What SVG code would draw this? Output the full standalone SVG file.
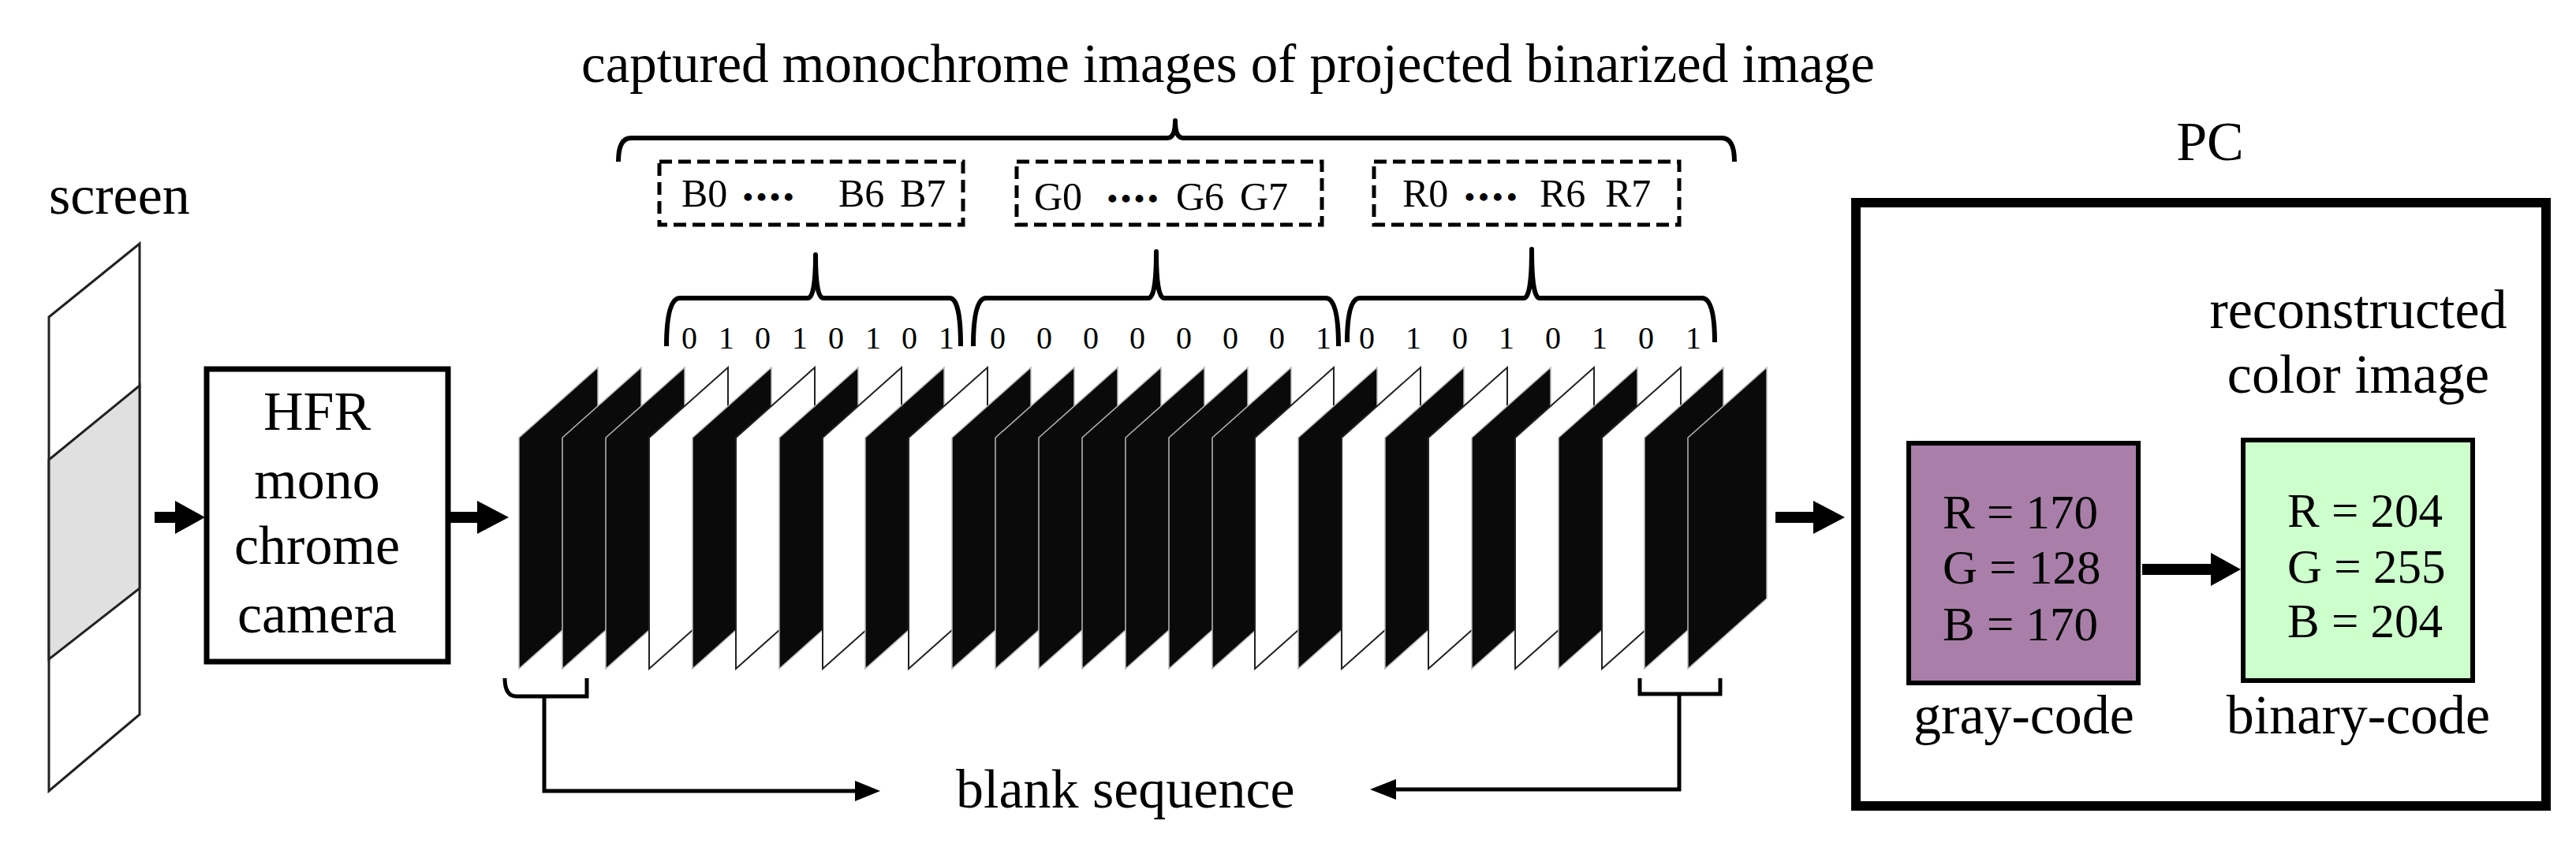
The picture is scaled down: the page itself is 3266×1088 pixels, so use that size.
<svg xmlns="http://www.w3.org/2000/svg" width="3266" height="1088" viewBox="0 0 3266 1088">
<style>
text{font-family:"Liberation Serif","Times New Roman",serif;fill:#000}
.t70{font-size:70px}
.t60{font-size:61px}
.t50{font-size:50px}
.dots{font-size:36px;font-weight:bold}
.dg{font-size:40px;text-anchor:middle}
.br{fill:none;stroke:#000;stroke-width:6;stroke-linejoin:round}
.dash{fill:#fff;stroke:#000;stroke-width:5;stroke-dasharray:16 8}
.fb{fill:#0a0a0a;stroke:#bbb;stroke-width:1.5}
.fw{fill:#fff;stroke:#222;stroke-width:2}
.ln{fill:none;stroke:#000;stroke-width:5}
.ar{fill:#000}
</style>
<rect width="3266" height="1088" fill="#fff"/>
<g id="title"><text x="1557" y="104" text-anchor="middle" font-size="69">captured monochrome images of projected binarized image</text></g>
<g id="screen">
<text class="t70" x="62" y="271">screen</text>
<polygon points="62,402 177,309 177,906 62,1003" fill="#fff" stroke="#222" stroke-width="3"/>
<polygon points="62,583 177,489 177,746 62,836" fill="#e0e0e0" stroke="#222" stroke-width="3"/>
</g>
<g id="camera">
<rect x="262" y="468" width="306" height="371" fill="#fff" stroke="#000" stroke-width="7"/>
<text class="t70" x="402" y="545" text-anchor="middle">HFR</text>
<text class="t70" x="402" y="632" text-anchor="middle">mono</text>
<text class="t70" x="402" y="715" text-anchor="middle">chrome</text>
<text class="t70" x="402" y="802" text-anchor="middle">camera</text>
</g>
<g id="frames">
<polygon class="fb" points="658,555 758,466 758,759 658,848"/>
<polygon class="fb" points="713,555 813,466 813,759 713,848"/>
<polygon class="fb" points="768,555 868,466 868,759 768,848"/>
<polygon class="fw" points="823,555 923,466 923,759 823,848"/>
<polygon class="fb" points="878,555 978,466 978,759 878,848"/>
<polygon class="fw" points="933,555 1033,466 1033,759 933,848"/>
<polygon class="fb" points="988,555 1088,466 1088,759 988,848"/>
<polygon class="fw" points="1043,555 1143,466 1143,759 1043,848"/>
<polygon class="fb" points="1097,555 1197,466 1197,759 1097,848"/>
<polygon class="fw" points="1152,555 1252,466 1252,759 1152,848"/>
<polygon class="fb" points="1207,555 1307,466 1307,759 1207,848"/>
<polygon class="fb" points="1262,555 1362,466 1362,759 1262,848"/>
<polygon class="fb" points="1317,555 1417,466 1417,759 1317,848"/>
<polygon class="fb" points="1372,555 1472,466 1472,759 1372,848"/>
<polygon class="fb" points="1427,555 1527,466 1527,759 1427,848"/>
<polygon class="fb" points="1482,555 1582,466 1582,759 1482,848"/>
<polygon class="fb" points="1537,555 1637,466 1637,759 1537,848"/>
<polygon class="fw" points="1591,555 1691,466 1691,759 1591,848"/>
<polygon class="fb" points="1646,555 1746,466 1746,759 1646,848"/>
<polygon class="fw" points="1701,555 1801,466 1801,759 1701,848"/>
<polygon class="fb" points="1756,555 1856,466 1856,759 1756,848"/>
<polygon class="fw" points="1811,555 1911,466 1911,759 1811,848"/>
<polygon class="fb" points="1866,555 1966,466 1966,759 1866,848"/>
<polygon class="fw" points="1921,555 2021,466 2021,759 1921,848"/>
<polygon class="fb" points="1976,555 2076,466 2076,759 1976,848"/>
<polygon class="fw" points="2031,555 2131,466 2131,759 2031,848"/>
<polygon class="fb" points="2085,555 2185,466 2185,759 2085,848"/>
<polygon class="fb" points="2140,555 2240,466 2240,759 2140,848"/>
</g>
<g id="bits">
<text class="dg" x="874" y="442">0</text><text class="dg" x="921" y="442">1</text><text class="dg" x="967" y="442">0</text><text class="dg" x="1014" y="442">1</text><text class="dg" x="1060" y="442">0</text><text class="dg" x="1107" y="442">1</text><text class="dg" x="1153" y="442">0</text><text class="dg" x="1200" y="442">1</text>
<text class="dg" x="1265" y="442">0</text><text class="dg" x="1324" y="442">0</text><text class="dg" x="1383" y="442">0</text><text class="dg" x="1442" y="442">0</text><text class="dg" x="1501" y="442">0</text><text class="dg" x="1560" y="442">0</text><text class="dg" x="1619" y="442">0</text><text class="dg" x="1678" y="442">1</text>
<text class="dg" x="1733" y="442">0</text><text class="dg" x="1792" y="442">1</text><text class="dg" x="1851" y="442">0</text><text class="dg" x="1910" y="442">1</text><text class="dg" x="1969" y="442">0</text><text class="dg" x="2028" y="442">1</text><text class="dg" x="2087" y="442">0</text><text class="dg" x="2147" y="442">1</text>
</g>
<g id="braces">
<path class="br" d="M784,205 Q784,175 800,175 L1480,175 Q1490,175 1490,153 Q1490,175 1500,175 L2183,175 Q2199,175 2199,205"/>
<path class="br" d="M845,439 Q845,378 862,378 L1024,378 Q1034,378 1034,323 Q1034,378 1044,378 L1204,378 Q1218,378 1218,439"/>
<path class="br" d="M1234,439 Q1234,378 1250,378 L1456,378 Q1466,378 1466,319 Q1466,378 1476,378 L1681,378 Q1697,378 1697,439"/>
<path class="br" d="M1708,434 Q1708,378 1724,378 L1932,378 Q1942,378 1942,316 Q1942,378 1952,378 L2158,378 Q2174,378 2174,434"/>
</g>
<g id="groupB">
<rect class="dash" x="836" y="205" width="385" height="80"/>
<text class="t50" x="864" y="262">B0</text><text class="dots" x="942" y="262" textLength="64">••••</text><text class="t50" x="1063" y="262">B6</text><text class="t50" x="1141" y="262">B7</text>
</g>
<g id="groupG">
<rect class="dash" x="1289" y="205" width="387" height="80"/>
<text class="t50" x="1311" y="266">G0</text><text class="dots" x="1404" y="264" textLength="64">••••</text><text class="t50" x="1491" y="266">G6</text><text class="t50" x="1572" y="266">G7</text>
</g>
<g id="groupR">
<rect class="dash" x="1742" y="205" width="387" height="80"/>
<text class="t50" x="1778" y="262">R0</text><text class="dots" x="1857" y="262" textLength="66">••••</text><text class="t50" x="1952" y="262">R6</text><text class="t50" x="2035" y="262">R7</text>
</g>
<g id="blank">
<text class="t70" x="1212" y="1024">blank sequence</text>
</g>
<g id="pc">
<rect x="2353" y="257" width="875" height="765" fill="#fff" stroke="#000" stroke-width="12"/>
<text class="t70" x="2802" y="203" text-anchor="middle">PC</text>
<text class="t70" x="2990" y="416" text-anchor="middle">reconstructed</text>
<text class="t70" x="2990" y="498" text-anchor="middle">color image</text>
</g>
<g id="gray">
<rect x="2420" y="562" width="291" height="304" fill="#a97fa9" stroke="#000" stroke-width="6"/>
<text class="t60" x="2463" y="670">R = 170</text>
<text class="t60" x="2463" y="740">G = 128</text>
<text class="t60" x="2463" y="812">B = 170</text>
<text class="t70" x="2566" y="930" text-anchor="middle">gray-code</text>
</g>
<g id="binary">
<rect x="2844" y="558" width="291" height="305" fill="#ccffcc" stroke="#000" stroke-width="6"/>
<text class="t60" x="2900" y="668">R = 204</text>
<text class="t60" x="2900" y="739">G = 255</text>
<text class="t60" x="2900" y="808">B = 204</text>
<text class="t70" x="2990" y="930" text-anchor="middle">binary-code</text>
</g>
<g id="connectors">
<rect x="196" y="649" width="30" height="14" class="ar"/><polygon class="ar" points="222,635 260,656 222,677"/>
<rect x="570" y="649" width="38" height="14" class="ar"/><polygon class="ar" points="605,635 645,656 605,677"/>
<rect x="2251" y="649" width="50" height="14" class="ar"/><polygon class="ar" points="2299,635 2339,656 2299,677"/>
<rect x="2716" y="715" width="90" height="14" class="ar"/><polygon class="ar" points="2803,701 2841,722 2803,743"/>
<path class="ln" d="M640,860 Q640,883 655,883 L744,883 L744,860"/>
<path class="ln" d="M690,883 L690,1003 L1088,1003"/>
<polygon class="ar" points="1084,990 1116,1003 1084,1016"/>
<path class="ln" d="M2079,860 L2079,880 L2181,880 L2181,860"/>
<path class="ln" d="M2129,880 L2129,1001 L1768,1001"/>
<polygon class="ar" points="1770,988 1737,1001 1770,1014"/>
</g>
</svg>
